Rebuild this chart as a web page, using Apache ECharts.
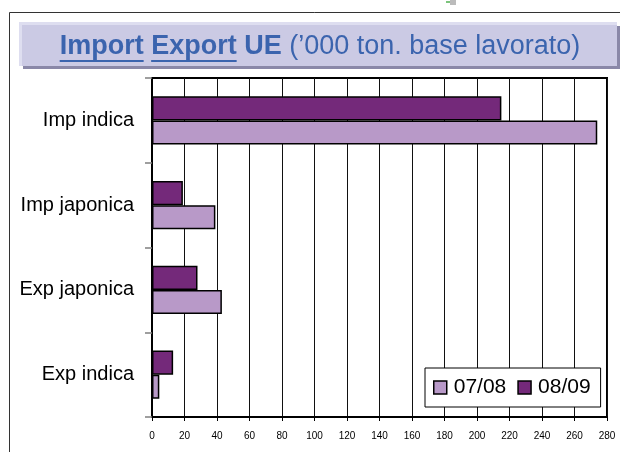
<!DOCTYPE html>
<html>
<head>
<meta charset="utf-8">
<script src="https://cdn.jsdelivr.net/npm/echarts@6/dist/echarts.min.js"></script>
<style>
  html, body { margin: 0; padding: 0; background: #fff; }
  #chart { width: 620px; height: 452px; }
</style>
</head>
<body>
<div id="chart"></div>
<script>
// data, bottom category first (category axis runs upward)
const categories = ['Exp indica', 'Exp japonica', 'Imp japonica', 'Imp indica'];
const values0708 = [4.5, 43, 39, 274];
const values0809 = [13, 28, 19, 215];
const seriesNames = ['07/08', '08/09'];

const FONT = "'Liberation Sans', Arial, sans-serif";
const TITLE_BLUE = '#3b64ae';
const TITLE_SIZE = 27;

// title pieces, some of them underlined
const titleParts = [
    { text: 'Import', bold: true, underline: true },
    { text: ' ', bold: true },
    { text: 'Export', bold: true, underline: true },
    { text: ' UE', bold: true },
    { text: ' (\u2019000 ton. base lavorato)', bold: false }
];

const ctx = document.createElement('canvas').getContext('2d');
function fontOf(part) {
    return (part.bold ? 'bold ' : '') + TITLE_SIZE + 'px ' + FONT;
}
const widths = titleParts.map(function (part) {
    ctx.font = fontOf(part);
    return ctx.measureText(part.text).width;
});
const totalWidth = widths.reduce((a, b) => a + b, 0);

const titleGraphics = [];
let x = 320 - totalWidth / 2;
titleParts.forEach(function (part, i) {
    titleGraphics.push({
        type: 'text',
        x: x,
        y: 47,
        z: 10,
        style: {
            text: part.text,
            fill: TITLE_BLUE,
            font: fontOf(part),
            verticalAlign: 'middle'
        }
    });
    if (part.underline) {
        titleGraphics.push({
            type: 'rect',
            z: 10,
            shape: { x: x, y: 60, width: widths[i], height: 2 },
            style: { fill: TITLE_BLUE }
        });
    }
    x += widths[i];
});

const chart = echarts.init(document.getElementById('chart'));
chart.setOption({
    animation: false,
    backgroundColor: '#fff',
    graphic: [
        // outer frame
        { type: 'polyline', shape: { points: [[9.5, 452], [9.5, 12.5], [620, 12.5]] },
          style: { stroke: '#333', lineWidth: 1, fill: null } },
        // little icon at the top
        { type: 'rect', shape: { x: 446, y: 1, width: 6, height: 2 }, style: { fill: '#7cc47c' } },
        { type: 'rect', shape: { x: 450, y: 0, width: 6, height: 5 }, style: { fill: '#bbbbbb' } },
        // title banner
        { type: 'rect', shape: { x: 23, y: 26, width: 597, height: 43 }, style: { fill: '#8a88a8' } },
        { type: 'rect', shape: { x: 19, y: 22, width: 598, height: 44 }, style: { fill: '#dedef0' } },
        { type: 'rect', shape: { x: 22, y: 25, width: 595, height: 41 }, style: { fill: '#cbcae4' } }
    ].concat(titleGraphics),
    grid: {
        left: 152,
        right: 13,
        top: 78,
        bottom: 35,
        show: true,
        borderColor: '#000',
        borderWidth: 2
    },
    legend: {
        data: seriesNames,
        left: 425,
        top: 368,
        orient: 'horizontal',
        padding: [9, 10, 9, 8],
        backgroundColor: '#fff',
        borderColor: '#000',
        borderWidth: 1,
        itemWidth: 13,
        itemHeight: 13,
        itemGap: 11,
        icon: 'rect',
        itemStyle: { borderColor: '#000', borderWidth: 1.5 },
        textStyle: { fontSize: 21, color: '#000', fontFamily: FONT, padding: [0, 0, 0, 2] }
    },
    xAxis: {
        type: 'value',
        min: 0,
        max: 280,
        interval: 20,
        axisLine: { show: true, lineStyle: { color: '#000', width: 2 } },
        axisTick: { show: true, length: 4, lineStyle: { color: '#000' } },
        axisLabel: { fontSize: 10, color: '#000', fontFamily: FONT, margin: 14 },
        splitLine: { show: true, lineStyle: { color: '#111', width: 1 } }
    },
    yAxis: {
        type: 'category',
        data: categories,
        axisLine: { show: true, lineStyle: { color: '#000', width: 2 } },
        axisTick: { show: true, length: 7, lineStyle: { color: '#808080', width: 1.5 } },
        axisLabel: { fontSize: 20, color: '#000', fontFamily: FONT, margin: 18 }
    },
    // 08/09 listed first so that it sits above 07/08 within each category
    series: [
        {
            name: seriesNames[1],
            type: 'bar',
            data: values0809,
            barGap: '0%',
            barCategoryGap: '43%',
            itemStyle: { color: '#74297a', borderColor: '#000', borderWidth: 1.5 }
        },
        {
            name: seriesNames[0],
            type: 'bar',
            data: values0708,
            barGap: '0%',
            barCategoryGap: '43%',
            itemStyle: { color: '#b899c8', borderColor: '#000', borderWidth: 1.5 }
        }
    ]
});
</script>
</body>
</html>
